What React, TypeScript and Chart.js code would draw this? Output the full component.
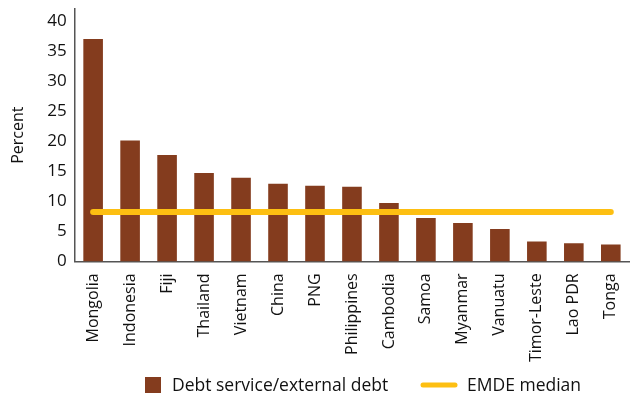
import React, { useEffect, useRef } from "react";
import { Chart, registerables } from "chart.js";

Chart.register(...registerables);

const categories = ["Mongolia", "Indonesia", "Fiji", "Thailand", "Vietnam", "China", "PNG", "Philippines", "Cambodia", "Samoa", "Myanmar", "Vanuatu", "Timor-Leste", "Lao PDR", "Tonga"];
const debtService = [37.0, 20.1, 17.7, 14.7, 13.9, 12.9, 12.6, 12.4, 9.7, 7.2, 6.4, 5.4, 3.3, 3.0, 2.8];
const emdeMedian = [8.2, 8.2, 8.2, 8.2, 8.2, 8.2, 8.2, 8.2, 8.2, 8.2, 8.2, 8.2, 8.2, 8.2, 8.2];
const seriesLabels = ["Debt service/external debt", "EMDE median"];

const BAR = "#843C1E";
const LINE = "#FDBF12";
const FONT = "'Open Sans', sans-serif";
const TXT = "#111";

const legendPlugin = {
  id: "customLegend",
  afterDraw(chart: any) {
    const ctx = chart.ctx;
    ctx.save();
    ctx.font = `500 17.5px ${FONT}`;
    ctx.fillStyle = TXT;
    ctx.textBaseline = "middle";
    const y = 385;
    ctx.fillStyle = BAR;
    ctx.fillRect(145, y - 8, 16, 16);
    ctx.fillStyle = TXT;
    ctx.fillText(seriesLabels[0], 172, y + 1);
    ctx.strokeStyle = LINE;
    ctx.lineWidth = 5;
    ctx.lineCap = "round";
    ctx.beginPath();
    ctx.moveTo(423, y);
    ctx.lineTo(455, y);
    ctx.stroke();
    ctx.fillText(seriesLabels[1], 467, y + 1);
    ctx.restore();
  },
};

export default function App() {
  const ref = useRef<HTMLCanvasElement>(null);
  useEffect(() => {
    if (!ref.current) return;
    const chart = new Chart(ref.current, {
      type: "bar",
      data: {
        labels: categories,
        datasets: [
          {
            type: "line",
            label: seriesLabels[1],
            data: emdeMedian,
            borderColor: LINE,
            backgroundColor: LINE,
            borderWidth: 6,
            borderCapStyle: "round",
            pointRadius: 0,
            order: 0,
          } as any,
          {
            type: "bar",
            label: seriesLabels[0],
            data: debtService,
            backgroundColor: BAR,
            barPercentage: 0.53,
            categoryPercentage: 1,
            order: 1,
          },
        ],
      },
      options: {
        responsive: false,
        animation: false,
        layout: { padding: { left: 9, right: 0, top: 9, bottom: 28 } },
        plugins: { legend: { display: false }, tooltip: { enabled: false } },
        scales: {
          x: {
            grid: { display: false, drawTicks: false },
            border: { display: true, color: "#555", width: 1.5 },
            ticks: {
              minRotation: 90,
              maxRotation: 90,
              autoSkip: false,
              padding: 12,
              color: TXT,
              font: { family: FONT, size: 16, weight: "500" },
            },
          },
          y: {
            min: 0,
            max: 42,
            afterFit: (scale: any) => {
              scale.paddingTop = 0;
            },
            grid: { display: false, drawTicks: false },
            border: { display: true, color: "#555", width: 1.5 },
            ticks: {
              stepSize: 5,
              includeBounds: false,
              padding: 8,
              color: TXT,
              font: { family: FONT, size: 17, weight: "500" },
            },
            title: {
              display: true,
              text: "Percent",
              color: TXT,
              font: { family: FONT, size: 16, weight: "500" },
              padding: { top: 0, bottom: 11 },
            },
          },
        },
      },
      plugins: [legendPlugin],
    });
    return () => chart.destroy();
  }, []);
  return (
    <div style={{ position: "absolute", left: 0, top: 0, width: 642, height: 402 }}>
      <canvas ref={ref} width={642} height={402} style={{ width: 642, height: 402 }} />
    </div>
  );
}
